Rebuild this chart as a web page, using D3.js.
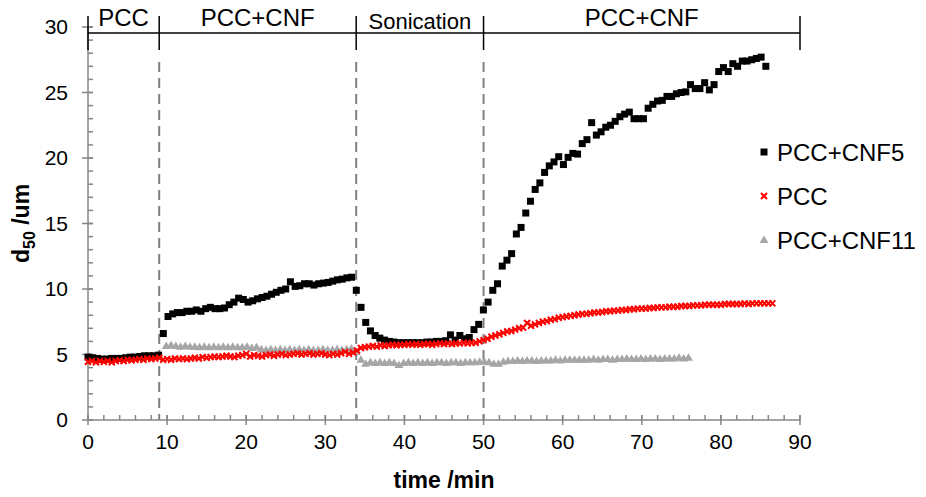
<!DOCTYPE html>
<html><head><meta charset="utf-8">
<script src="https://cdn.jsdelivr.net/npm/d3@7"></script>
<style>
body{margin:0;background:#fff}
text{font-family:"Liberation Sans",Arial,sans-serif;fill:#000}
</style>
</head><body>
<svg id="c" width="926" height="497"></svg>
<script>
// ---- data ----
const seriesNames = ["PCC+CNF5", "PCC", "PCC+CNF11"];

// PCC+CNF5 (black squares): start time, sampling step (min), d50 values (um)
const cnf5Start = 0, cnf5Step = 0.595;
const cnf5Values = [
 4.8,4.75,4.7,4.65,4.65,4.7,4.7,4.7,4.75,4.8,4.8,4.85,4.9,4.9,4.9,4.95,
 6.6,7.9,8.1,8.2,8.2,8.3,8.3,8.4,8.3,8.5,8.6,8.5,8.5,8.55,8.8,9.0,9.3,9.2,9.0,9.1,
 9.25,9.35,9.45,9.6,9.75,9.9,10.0,10.55,10.2,10.25,10.4,10.4,10.3,10.4,10.45,10.5,
 10.6,10.7,10.75,10.85,10.9,
 9.9,8.6,7.45,6.8,6.45,6.25,6.1,6.0,5.95,5.9,5.9,5.9,5.9,5.9,5.9,5.95,5.95,6.0,6.0,
 6.05,6.5,6.1,6.45,6.2,6.3,6.9,7.3,
 8.4,9.0,9.9,10.4,11.75,12.2,12.7,14.2,14.7,15.8,16.7,17.6,18.1,18.9,19.4,19.7,20.1,
 19.5,20.05,20.35,20.3,21.1,21.4,22.7,21.75,22.0,22.35,22.5,22.8,23.15,23.35,23.5,
 23.0,23.0,23.0,23.8,24.1,24.35,24.4,24.7,24.7,24.9,25.0,25.05,25.6,25.3,25.3,25.75,
 25.2,25.6,26.6,26.9,26.6,27.2,27.0,27.4,27.4,27.5,27.6,27.7,27.0
];

// PCC (red crosses)
const pccStart = 0, pccStep = 0.5;
const pccValues = [
 4.45,4.5,4.4,4.5,4.45,4.5,4.4,4.5,4.55,4.5,4.6,4.55,4.6,4.65,4.6,4.7,4.65,4.7,4.75,
 4.6,4.65,4.6,4.7,4.65,4.7,4.65,4.7,4.75,4.7,4.8,4.75,4.8,4.85,4.8,4.85,4.9,4.85,4.8,4.9,
 4.95,5.05,4.85,4.95,4.9,4.85,4.95,5.0,4.9,5.0,5.05,4.95,5.0,5.05,5.1,5.0,5.05,5.1,5.0,5.05,
 5.1,5.0,4.95,5.05,5.0,5.1,5.2,5.05,5.15,
 5.3,5.5,5.55,5.6,5.65,5.6,5.7,5.65,5.7,5.75,5.7,5.75,5.75,5.8,5.75,5.8,5.75,5.8,5.8,5.75,
 5.8,5.85,5.8,5.85,5.8,5.85,5.85,5.9,5.85,5.9,5.9,6.0,
 6.1,6.2,6.35,6.45,6.55,6.65,6.75,6.8,6.9,7.0,7.05,7.4,7.2,7.3,7.4,7.5,7.55,7.65,7.7,7.8,
 7.85,7.9,7.95,8.0,8.05,8.1,8.1,8.15,8.2,8.2,8.25,8.3,8.3,8.35,8.35,8.4,8.4,8.45,8.45,8.5,
 8.5,8.5,8.55,8.55,8.6,8.6,8.6,8.65,8.65,8.65,8.7,8.7,8.7,8.75,8.75,8.75,8.8,8.8,8.8,8.8,
 8.8,8.85,8.85,8.85,8.85,8.85,8.9,8.85,8.9,8.9,8.9,8.9,8.9,8.9
];

// PCC+CNF11 (grey triangles)
const cnf11Start = 9.9, cnf11Step = 0.6;
const cnf11Values = [
 5.65,5.7,5.65,5.6,5.65,5.6,5.6,5.55,5.6,5.55,5.6,5.55,5.6,5.55,5.6,5.55,5.55,5.6,5.5,5.55,
 5.4,5.35,5.4,5.35,5.4,5.35,5.4,5.35,5.4,5.35,5.4,5.35,5.35,5.4,5.35,5.35,5.4,5.35,5.4,5.45,
 5.2,4.6,4.3,4.4,4.35,4.4,4.35,4.4,4.35,4.2,4.35,4.4,4.35,4.4,4.35,4.4,4.35,4.4,4.4,4.35,
 4.4,4.4,4.35,4.4,4.4,4.4,4.45,4.45,4.4,4.3,4.3,4.45,4.5,4.5,4.55,4.5,4.55,4.55,4.5,4.55,
 4.55,4.55,4.6,4.55,4.6,4.6,4.6,4.6,4.6,4.6,4.65,4.6,4.65,4.65,4.6,4.65,4.65,4.7,4.65,4.65,
 4.7,4.65,4.7,4.7,4.65,4.7,4.7,4.7,4.75,4.7,4.75
];

const xTicks = [0,10,20,30,40,50,60,70,80,90];
const yTicks = [0,5,10,15,20,25,30];
const phaseBounds = [0, 9, 33.9, 50, 90];
const phaseLabels = ["PCC", "PCC+CNF", "Sonication", "PCC+CNF"];

// ---- drawing ----
const svg = d3.select("#c");
const x = d3.scaleLinear().domain([0, 90]).range([88, 800]);
const y = d3.scaleLinear().domain([0, 30]).range([420, 27]);
const axisColor = "#868686";

const toPts = (start, step, vals) => vals.map((v, i) => ({t: start + i * step, v}));
const cnf5 = toPts(cnf5Start, cnf5Step, cnf5Values);
const pcc = toPts(pccStart, pccStep, pccValues);
const cnf11 = toPts(cnf11Start, cnf11Step, cnf11Values);

// dashed phase separators
svg.append("g").selectAll("line").data(phaseBounds.slice(1, -1)).join("line")
  .attr("x1", d => x(d)).attr("x2", d => x(d))
  .attr("y1", 62).attr("y2", y(0))
  .attr("stroke", "#808080").attr("stroke-width", 2).attr("stroke-dasharray", "10,6");

// axes (custom ticks crossing the axis line)
const ga = svg.append("g").attr("stroke", axisColor).attr("stroke-width", 1.5);
ga.append("line").attr("x1", x(0)).attr("x2", x(90)).attr("y1", y(0)).attr("y2", y(0));
ga.append("line").attr("x1", x(0)).attr("x2", x(0)).attr("y1", y(0)).attr("y2", y(30));
const xMinor = d3.range(0, 91, 2);
const yMinor = d3.range(0, 31, 1);
ga.selectAll(".xm").data(xMinor).join("line")
  .attr("x1", d => x(d)).attr("x2", d => x(d)).attr("y1", y(0)).attr("y2", y(0) - 5);
ga.selectAll(".xM").data(xTicks).join("line")
  .attr("x1", d => x(d)).attr("x2", d => x(d)).attr("y1", y(0) - 5).attr("y2", y(0) + 5);
ga.selectAll(".ym").data(yMinor).join("line")
  .attr("x1", x(0)).attr("x2", x(0) + 5).attr("y1", d => y(d)).attr("y2", d => y(d));
ga.selectAll(".yM").data(yTicks).join("line")
  .attr("x1", x(0) - 6).attr("x2", x(0) + 5).attr("y1", d => y(d)).attr("y2", d => y(d));

svg.append("g").selectAll("text").data(xTicks).join("text")
  .attr("x", d => x(d)).attr("y", y(0) + 29).attr("text-anchor", "middle")
  .style("font-size", "21px").text(d => d);
svg.append("g").selectAll("text").data(yTicks).join("text")
  .attr("x", x(0) - 20).attr("y", d => y(d)).attr("dy", "0.35em").attr("text-anchor", "end")
  .style("font-size", "21px").text(d => d);

// axis titles
svg.append("text").attr("x", (x(0) + x(90)) / 2).attr("y", 488).attr("text-anchor", "middle")
  .style("font-size", "23px").style("font-weight", "bold").text("time /min");
const yt = svg.append("text").attr("transform", `translate(29,${(y(0) + y(30)) / 2}) rotate(-90)`)
  .attr("text-anchor", "middle").style("font-size", "23px").style("font-weight", "bold");
yt.append("tspan").text("d");
yt.append("tspan").attr("dy", 6).style("font-size", "16px").text("50");
yt.append("tspan").attr("dy", -6).text(" /um");

// top phase bar
const gp = svg.append("g").attr("stroke", "#000").attr("stroke-width", 1.5);
gp.append("line").attr("x1", x(0)).attr("x2", x(90)).attr("y1", 33).attr("y2", 33);
gp.selectAll(".pb").data(phaseBounds).join("line")
  .attr("x1", d => x(d)).attr("x2", d => x(d)).attr("y1", 16).attr("y2", 50);
svg.append("g").selectAll("text").data(phaseLabels).join("text")
  .attr("x", (d, i) => (x(phaseBounds[i]) + x(phaseBounds[i + 1])) / 2)
  .attr("y", (d, i) => d === "Sonication" ? 29 : 26)
  .attr("text-anchor", "middle")
  .style("font-size", (d) => d === "Sonication" ? "22px" : "24px").text(d => d);

// markers
const triPath = "M0,-4.5L4.5,3L-4.5,3Z";
const crossPath = "M-3,-3L3,3M-3,3L3,-3";
svg.append("g").selectAll("path").data(cnf11).join("path")
  .attr("d", triPath).attr("transform", d => `translate(${x(d.t)},${y(d.v)})`)
  .attr("fill", "#a6a6a6");
svg.append("g").selectAll("rect").data(cnf5).join("rect")
  .attr("x", d => x(d.t) - 3.5).attr("y", d => y(d.v) - 3.5)
  .attr("width", 7).attr("height", 7).attr("fill", "#000");
svg.append("g").selectAll("path").data(pcc).join("path")
  .attr("d", crossPath).attr("transform", d => `translate(${x(d.t)},${y(d.v)})`)
  .attr("stroke", "#ff0000").attr("stroke-width", 2).attr("fill", "none");

// legend
const lg = svg.append("g");
const legY = [152, 196, 240];
seriesNames.forEach((name, i) => {
  const g = lg.append("g").attr("transform", `translate(764,${legY[i]})`);
  if (i === 0) g.append("rect").attr("x", -3.5).attr("y", -3.5).attr("width", 7).attr("height", 7).attr("fill", "#000");
  if (i === 1) g.append("path").attr("d", crossPath).attr("stroke", "#ff0000").attr("stroke-width", 2);
  if (i === 2) g.append("path").attr("d", triPath).attr("fill", "#a6a6a6");
  g.append("text").attr("x", 13).attr("dy", "0.36em").style("font-size", "24px").text(name);
});
</script>
</body></html>
